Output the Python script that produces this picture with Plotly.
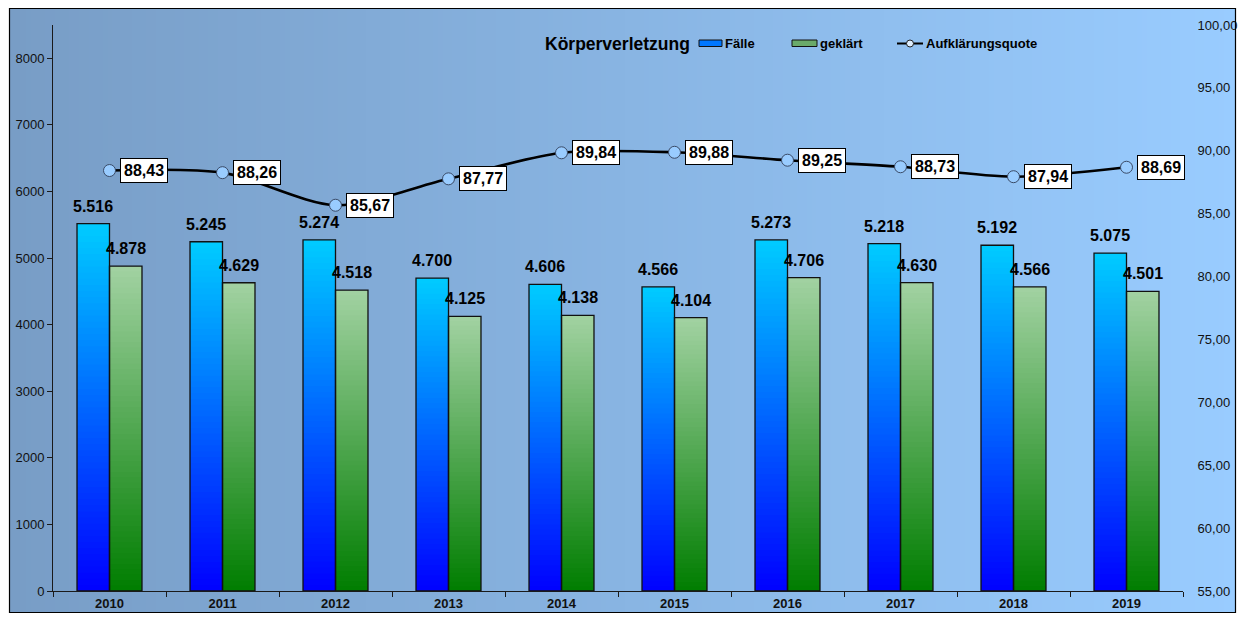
import base64
import struct
import zlib

import plotly.graph_objects as go

# Daten
jahre = ["2010", "2011", "2012", "2013", "2014", "2015", "2016", "2017", "2018", "2019"]
faelle = [5516, 5245, 5274, 4700, 4606, 4566, 5273, 5218, 5192, 5075]
geklaert = [4878, 4629, 4518, 4125, 4138, 4104, 4706, 4630, 4566, 4501]
quote = [88.43, 88.26, 85.67, 87.77, 89.84, 89.88, 89.25, 88.73, 87.94, 88.69]

FONT = "Liberation Sans, Arial, sans-serif"
W, H = 1238, 620
L, R, T, B = 53, 55, 25, 29
N_SEG = 60
BARGAP = 0.425
# halbe Balkenbreite in px (fuer die Wertebeschriftung)
HALB = (W - L - R) / len(jahre) * (1 - BARGAP) / 4


def px_x(px):
    return (px - L) / (W - L - R)


def px_y(py):
    return (H - B - py) / (H - T - B)


def mix(c0, c1, t):
    return "rgb(%d,%d,%d)" % tuple(round(a + (b - a) * t) for a, b in zip(c0, c1))


def gradient_png(c0, c1, w=256):
    """1px hoher horizontaler Verlauf als data-URI"""
    row = b"\x00" + b"".join(
        bytes(round(a + (b - a) * i / (w - 1)) for a, b in zip(c0, c1)) for i in range(w)
    )

    def chunk(tag, data):
        return (struct.pack(">I", len(data)) + tag + data
                + struct.pack(">I", zlib.crc32(tag + data) & 0xFFFFFFFF))

    png = (b"\x89PNG\r\n\x1a\n"
           + chunk(b"IHDR", struct.pack(">IIBBBBB", w, 1, 8, 2, 0, 0, 0))
           + chunk(b"IDAT", zlib.compress(row))
           + chunk(b"IEND", b""))
    return "data:image/png;base64," + base64.b64encode(png).decode()


fig = go.Figure()

# Balken mit vertikalem Verlauf: uebereinander gezeichnete, immer kuerzere Balken
serien = [
    ("f", faelle, (0, 0, 255), (0, 204, 255)),
    ("g", geklaert, (0, 125, 0), (162, 210, 162)),
]
for grp, werte, unten, oben in serien:
    for k in range(N_SEG, 0, -1):
        t = (k - 0.5) / N_SEG
        fig.add_trace(go.Bar(
            x=jahre, y=[v * k / N_SEG for v in werte],
            offsetgroup=grp, marker=dict(color=mix(unten, oben, t), line=dict(width=0)),
            hoverinfo="skip", showlegend=False,
        ))

# Umrandung
for grp, werte, name in [("f", faelle, "Fälle"), ("g", geklaert, "geklärt")]:
    fig.add_trace(go.Bar(
        x=jahre, y=werte, name=name, offsetgroup=grp,
        marker=dict(color="rgba(0,0,0,0)", line=dict(color="#111111", width=1.3)),
        showlegend=False,
    ))

fig.add_trace(go.Scatter(
    x=jahre, y=quote, yaxis="y2", name="Aufklärungsquote", mode="lines+markers",
    line=dict(color="black", width=2.6, shape="spline", smoothing=0.8),
    marker=dict(size=12, color="#99CCFF", line=dict(color="#3a4a66", width=1)),
    showlegend=False, cliponaxis=False,
))

annotations = []
# Werte ueber den Balken
for werte, seite in [(faelle, -1), (geklaert, 1)]:
    for i, v in enumerate(werte):
        annotations.append(dict(
            x=i, y=v, xref="x", yref="y", xanchor="center", yanchor="bottom",
            xshift=seite * HALB, yshift=7,
            text=f"{v:,}".replace(",", "."), showarrow=False,
            font=dict(family=FONT, size=16, color="black", weight="bold"),
        ))
for i, q in enumerate(quote):
    annotations.append(dict(
        x=i, y=q, xref="x", yref="y2", xanchor="left", yanchor="middle", xshift=10,
        text=f"{q:.2f}".replace(".", ","), showarrow=False,
        font=dict(family=FONT, size=16, color="black", weight="bold"),
        bgcolor="white", bordercolor="black", borderwidth=1, borderpad=3,
    ))

# Titel und Legende (wie im Excel-Diagramm im Plotbereich)
annotations.append(dict(
    x=px_x(543), y=px_y(44), xref="paper", yref="paper", xanchor="left", yanchor="middle",
    text="Körperverletzung", showarrow=False,
    font=dict(family=FONT, size=17.5, color="black", weight="bold"),
))
for txt, xl in [("Fälle", 723), ("geklärt", 818), ("Aufklärungsquote", 924)]:
    annotations.append(dict(
        x=px_x(xl), y=px_y(43.5), xref="paper", yref="paper", xanchor="left", yanchor="middle",
        text=txt, showarrow=False,
        font=dict(family=FONT, size=13, color="black", weight="bold"),
    ))

shapes = [
    # Rahmen
    dict(type="rect", xref="paper", yref="paper", x0=px_x(9.5), x1=px_x(1235.5),
         y0=px_y(8.5), y1=px_y(612.5), line=dict(color="black", width=1.2), layer="above"),
    # Legendensymbole
    dict(type="rect", xref="paper", yref="paper", x0=px_x(699), x1=px_x(722),
         y0=px_y(40), y1=px_y(46.5), fillcolor="#0077FF", line=dict(color="#111", width=1)),
    dict(type="rect", xref="paper", yref="paper", x0=px_x(792), x1=px_x(817),
         y0=px_y(40), y1=px_y(46.5), fillcolor="#6AAA6A", line=dict(color="#111", width=1)),
    dict(type="line", xref="paper", yref="paper", x0=px_x(897), x1=px_x(923),
         y0=px_y(43.5), y1=px_y(43.5), line=dict(color="black", width=2)),
    dict(type="circle", xref="paper", yref="paper", x0=px_x(906.5), x1=px_x(913.5),
         y0=px_y(40), y1=px_y(47), fillcolor="#DDEEFF", line=dict(color="#222", width=1)),
]

fig.update_layout(
    width=W, height=H,
    margin=dict(l=L, r=R, t=T, b=B, pad=0),
    paper_bgcolor="white", plot_bgcolor="rgba(0,0,0,0)",
    barmode="group", bargap=BARGAP, bargroupgap=0,
    font=dict(family=FONT, size=13, color="#111111"),
    showlegend=False,
    xaxis=dict(type="category", range=[-0.5, len(jahre) - 0.5], autorange=False,
               automargin=False, showline=True, linecolor="#1a1a1a", linewidth=1,
               ticks="outside", tickson="boundaries", ticklen=5, tickcolor="#1a1a1a",
               tickangle=0, tickfont=dict(size=13, weight="bold", color="#111"),
               showgrid=False, zeroline=False),
    yaxis=dict(range=[0, 8500], dtick=1000, tickformat="d", showline=True, automargin=False,
               linecolor="#1a1a1a", linewidth=1, ticks="outside", ticklen=5,
               tickcolor="#1a1a1a", showgrid=False, zeroline=False),
    yaxis2=dict(range=[55, 100], dtick=5, tickformat=".2f", overlaying="y", side="right",
                automargin=False, showline=False, ticks="outside", ticklen=11,
                tickcolor="rgba(0,0,0,0)", showgrid=False, zeroline=False),
    separators=",.",
    annotations=annotations,
    shapes=shapes,
    images=[dict(
        source=gradient_png((120, 157, 198), (153, 204, 255)),
        xref="paper", yref="paper", x=px_x(9.5), y=px_y(8.5),
        sizex=px_x(1235.5) - px_x(9.5), sizey=px_y(8.5) - px_y(612.5),
        xanchor="left", yanchor="top", sizing="stretch", layer="below",
    )],
)

# Seitenrand des Browsers entfernen, damit das Bild bei (0,0) beginnt
fig.write_html("out.html", config={"displayModeBar": False},
               post_script="document.body.style.margin='0';")
